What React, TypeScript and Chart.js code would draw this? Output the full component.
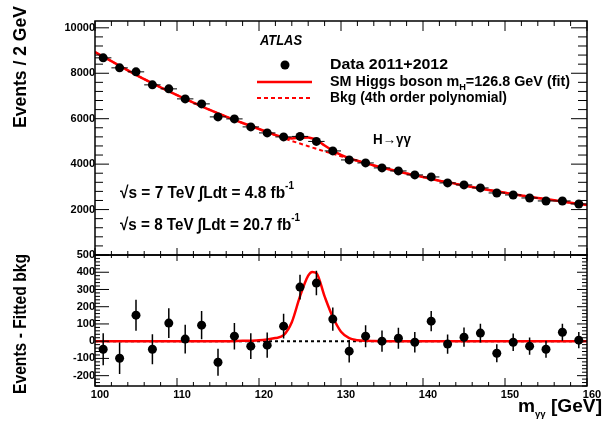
import React, { useEffect, useRef } from "react";
import { Chart, registerables } from "chart.js";
Chart.register(...registerables);

// ---- data ----
const massCenters = [101, 103, 105, 107, 109, 111, 113, 115, 117, 119, 121, 123, 125, 127, 129, 131, 133, 135, 137, 139, 141, 143, 145, 147, 149, 151, 153, 155, 157, 159];
const eventCounts = [8678, 8238, 8062, 7489, 7313, 6872, 6652, 6079, 5991, 5639, 5374, 5198, 5220, 5000, 4581, 4185, 4053, 3833, 3700, 3524, 3436, 3172, 3084, 2952, 2731, 2643, 2511, 2379, 2379, 2247];
const statErrors = [93, 91, 90, 87, 86, 83, 82, 78, 77, 75, 73, 72, 72, 71, 68, 65, 64, 62, 61, 59, 59, 56, 56, 54, 52, 51, 50, 49, 49, 47];
const residuals = [-47, -99, 151, -47, 105, 12, 93, -122, 29, -29, -23, 87, 314, 337, 128, -58, 29, 0, 17, -6, 116, -17, 23, 47, -70, -6, -29, -47, 52, 6];
const binHalfWidth = 1;

const fitMass = [100, 102, 104, 106, 108, 110, 112, 114, 116, 118, 119, 120, 121, 122, 123, 124, 125, 126, 126.5, 127, 128, 129, 130, 131, 132, 133, 134, 136, 138, 140, 142, 144, 146, 148, 150, 152, 154, 156, 158, 160];
const bkgFit = [8930, 8530, 8130, 7740, 7380, 7040, 6710, 6390, 6090, 5810, 5675, 5540, 5405, 5270, 5145, 5020, 4905, 4790, 4730, 4675, 4560, 4455, 4350, 4245, 4140, 4040, 3940, 3760, 3590, 3430, 3270, 3130, 2990, 2860, 2740, 2620, 2510, 2410, 2300, 2200];
const signalFit = [0, 0, 0, 0, 0, 0, 0, 0, 0, 2, 3, 5, 10, 18, 35, 110, 260, 380, 402, 395, 260, 140, 55, 18, 6, 2, 1, 0, 0, 0, 0, 0, 0, 0, 0, 0, 0, 0, 0, 0];

const xTickValues = [100, 110, 120, 130, 140, 150, 160];
const upperYTicks = [2000, 4000, 6000, 8000, 10000];
const lowerYTicks = [-200, -100, 0, 100, 200, 300, 400, 500];

const X_MIN = 100, X_MAX = 160;
const UP_MIN = 0, UP_MAX = 10300;
const LO_MIN = -260, LO_MAX = 500;

const FAM = '"Liberation Sans", Arial, sans-serif';

type Part = { t: string; f: string; dy?: number };

function drawRich(ctx: CanvasRenderingContext2D, parts: Part[], x: number, y: number, width: number, color = "#000") {
  ctx.save();
  ctx.textBaseline = "middle";
  ctx.textAlign = "left";
  let natural = 0;
  parts.forEach((p) => { ctx.font = p.f; natural += ctx.measureText(p.t).width; });
  const sx = width / natural;
  ctx.translate(x, y);
  ctx.scale(sx, 1);
  ctx.fillStyle = color;
  let cx = 0;
  parts.forEach((p) => {
    ctx.font = p.f;
    ctx.fillText(p.t, cx, p.dy || 0);
    cx += ctx.measureText(p.t).width;
  });
  ctx.restore();
}

function drawTicksAndFrame(chart: any, cfg: any) {
  const ctx: CanvasRenderingContext2D = chart.ctx;
  const a = chart.chartArea;
  const xs = chart.scales.x, ys = chart.scales.y;
  ctx.save();
  ctx.strokeStyle = "#000";
  ctx.lineWidth = 1.5;
  ctx.strokeRect(a.left, a.top, a.right - a.left, a.bottom - a.top);
  ctx.lineWidth = 1;
  ctx.beginPath();
  for (let v = X_MIN; v <= X_MAX; v += 2) {
    const px = xs.getPixelForValue(v);
    const major = v % 10 === 0;
    const lt = major ? cfg.topMaj : cfg.topMin;
    const lb = major ? cfg.botMaj : cfg.botMin;
    ctx.moveTo(px, a.top); ctx.lineTo(px, a.top + lt);
    ctx.moveTo(px, a.bottom); ctx.lineTo(px, a.bottom - lb);
  }
  for (let v = cfg.yStart; v <= cfg.yEnd; v += cfg.yMinor) {
    const py = ys.getPixelForValue(v);
    if (py < a.top - 0.5 || py > a.bottom + 0.5) continue;
    const major = v % cfg.yMajor === 0;
    const ll = major ? cfg.leftMaj : cfg.leftMin;
    const lr = major ? cfg.rightMaj : cfg.rightMin;
    ctx.moveTo(a.left, py); ctx.lineTo(a.left + ll, py);
    ctx.moveTo(a.right, py); ctx.lineTo(a.right - lr, py);
  }
  ctx.stroke();
  ctx.restore();
}

const upperDecor = {
  id: "upperDecor",
  afterDatasetsDraw(chart: any) {
    const ctx: CanvasRenderingContext2D = chart.ctx;
    const xs = chart.scales.x, ys = chart.scales.y;
    ctx.save();
    ctx.strokeStyle = "#000";
    ctx.lineWidth = 1;
    ctx.beginPath();
    massCenters.forEach((m, i) => {
      const px = xs.getPixelForValue(m);
      const py = ys.getPixelForValue(eventCounts[i]);
      ctx.moveTo(xs.getPixelForValue(m - binHalfWidth), py);
      ctx.lineTo(xs.getPixelForValue(m + binHalfWidth), py);
      ctx.moveTo(px, ys.getPixelForValue(eventCounts[i] - statErrors[i]));
      ctx.lineTo(px, ys.getPixelForValue(eventCounts[i] + statErrors[i]));
    });
    ctx.stroke();
    ctx.restore();
  },
  afterDraw(chart: any) {
    const ctx: CanvasRenderingContext2D = chart.ctx;
    drawTicksAndFrame(chart, {
      topMaj: 10, topMin: 5, botMaj: 7, botMin: 4,
      yStart: 0, yEnd: 10400, yMinor: 400, yMajor: 2000,
      leftMaj: 14, leftMin: 8, rightMaj: 16, rightMin: 9,
    });
    // ATLAS label
    drawRich(ctx, [{ t: "ATLAS", f: `italic bold 15px ${FAM}` }], 260, 41, 42);
    // legend
    ctx.save();
    ctx.fillStyle = "#000";
    ctx.beginPath();
    ctx.arc(285, 65, 4.5, 0, Math.PI * 2);
    ctx.fill();
    ctx.strokeStyle = "#ff0000";
    ctx.lineWidth = 2.5;
    ctx.beginPath();
    ctx.moveTo(257, 82); ctx.lineTo(312, 82);
    ctx.stroke();
    ctx.lineWidth = 2;
    ctx.setLineDash([4, 3]);
    ctx.beginPath();
    ctx.moveTo(257, 98); ctx.lineTo(312, 98);
    ctx.stroke();
    ctx.restore();
    drawRich(ctx, [{ t: "Data 2011+2012", f: `bold 14px ${FAM}` }], 330, 65, 118);
    drawRich(ctx, [
      { t: "SM Higgs boson m", f: `bold 14px ${FAM}` },
      { t: "H", f: `bold 9px ${FAM}` , dy: 6 },
      { t: "=126.8 GeV (fit)", f: `bold 14px ${FAM}` },
    ], 330, 82, 240);
    drawRich(ctx, [{ t: "Bkg (4th order polynomial)", f: `bold 14px ${FAM}` }], 330, 98, 177);
    drawRich(ctx, [{ t: "H→γγ", f: `bold 14px ${FAM}` }], 373, 140, 38);
    drawRich(ctx, [
      { t: "√s = 7 TeV ∫Ldt = 4.8 fb", f: `bold 17px ${FAM}` },
      { t: "-1", f: `bold 11px ${FAM}`, dy: -7 },
    ], 120, 193, 174);
    drawRich(ctx, [
      { t: "√s = 8 TeV ∫Ldt = 20.7 fb", f: `bold 17px ${FAM}` },
      { t: "-1", f: `bold 11px ${FAM}`, dy: -7 },
    ], 120, 225, 180);
    // y title
    ctx.save();
    ctx.translate(21, 128);
    ctx.rotate(-Math.PI / 2);
    drawRich(ctx, [{ t: "Events / 2 GeV", f: `bold 18px ${FAM}` }], 0, 0, 122);
    ctx.restore();
  },
};

const lowerDecor = {
  id: "lowerDecor",
  afterDatasetsDraw(chart: any) {
    const ctx: CanvasRenderingContext2D = chart.ctx;
    const xs = chart.scales.x, ys = chart.scales.y;
    ctx.save();
    ctx.strokeStyle = "#000";
    ctx.lineWidth = 1.5;
    ctx.beginPath();
    massCenters.forEach((m, i) => {
      const px = xs.getPixelForValue(m);
      ctx.moveTo(px, ys.getPixelForValue(residuals[i] - statErrors[i]));
      ctx.lineTo(px, ys.getPixelForValue(residuals[i] + statErrors[i]));
    });
    ctx.stroke();
    ctx.restore();
  },
  afterDraw(chart: any) {
    const ctx: CanvasRenderingContext2D = chart.ctx;
    drawTicksAndFrame(chart, {
      topMaj: 6, topMin: 3, botMaj: 8, botMin: 4,
      yStart: -260, yEnd: 500, yMinor: 20, yMajor: 100,
      leftMaj: 14, leftMin: 5, rightMaj: 10, rightMin: 5,
    });
    // y title
    ctx.save();
    ctx.translate(21, 394);
    ctx.rotate(-Math.PI / 2);
    drawRich(ctx, [{ t: "Events - Fitted bkg", f: `bold 18px ${FAM}` }], 0, 0, 140);
    ctx.restore();
    // x title
    drawRich(ctx, [
      { t: "m", f: `bold 18px ${FAM}` },
      { t: "γγ", f: `bold 9px ${FAM}`, dy: 8 },
      { t: " [GeV]", f: `bold 18px ${FAM}` },
    ], 518, 407, 84);
  },
};

const tickFont = { family: FAM, size: 11, weight: "bold" as const };
const plainLabel = (v: any) => String(v);

export default function App() {
  const upRef = useRef<HTMLCanvasElement>(null);
  const loRef = useRef<HTMLCanvasElement>(null);

  useEffect(() => {
    const up = new Chart(upRef.current as HTMLCanvasElement, {
      type: "scatter",
      data: {
        datasets: [
          {
            type: "scatter",
            data: massCenters.map((m, i) => ({ x: m, y: eventCounts[i] })),
            pointRadius: 4.5,
            pointBackgroundColor: "#000",
            pointBorderColor: "#000",
            pointBorderWidth: 0,
            order: 0,
          } as any,
          {
            type: "line",
            data: fitMass.map((m, i) => ({ x: m, y: bkgFit[i] + signalFit[i] })),
            borderColor: "#ff0000",
            borderWidth: 2.5,
            pointRadius: 0,
            fill: false,
            cubicInterpolationMode: "monotone",
            order: 1,
          } as any,
          {
            type: "line",
            data: fitMass.map((m, i) => ({ x: m, y: bkgFit[i] })),
            borderColor: "#ff0000",
            borderWidth: 2,
            borderDash: [4, 3],
            pointRadius: 0,
            fill: false,
            cubicInterpolationMode: "monotone",
            order: 2,
          } as any,
        ],
      },
      options: {
        responsive: false,
        animation: false,
        events: [],
        layout: { padding: { top: 21, right: 20, bottom: 166, left: 0 } },
        plugins: { legend: { display: false }, tooltip: { enabled: false } },
        scales: {
          x: { type: "linear", min: X_MIN, max: X_MAX, display: false },
          y: {
            type: "linear",
            min: UP_MIN,
            max: UP_MAX,
            afterFit: (s: any) => { s.width = 95; },
            afterBuildTicks: (s: any) => { s.ticks = upperYTicks.map((v) => ({ value: v })); },
            grid: { display: false, drawTicks: false },
            border: { display: false },
            ticks: { color: "#000", font: tickFont, padding: 0, callback: plainLabel },
          },
        },
      } as any,
      plugins: [upperDecor],
    });

    const lo = new Chart(loRef.current as HTMLCanvasElement, {
      type: "scatter",
      data: {
        datasets: [
          {
            type: "scatter",
            data: massCenters.map((m, i) => ({ x: m, y: residuals[i] })),
            pointRadius: 4.5,
            pointBackgroundColor: "#000",
            pointBorderColor: "#000",
            pointBorderWidth: 0,
            order: 0,
          } as any,
          {
            type: "line",
            data: fitMass.map((m, i) => ({ x: m, y: signalFit[i] })),
            borderColor: "#ff0000",
            borderWidth: 2.5,
            pointRadius: 0,
            fill: false,
            cubicInterpolationMode: "monotone",
            order: 1,
          } as any,
          {
            type: "line",
            data: fitMass.map((m, i) => ({ x: m, y: bkgFit[i] - bkgFit[i] })),
            borderColor: "#000",
            borderWidth: 2,
            borderDash: [3, 3],
            pointRadius: 0,
            fill: false,
            order: 2,
          } as any,
        ],
      },
      options: {
        responsive: false,
        animation: false,
        events: [],
        layout: { padding: { top: 255, right: 20, bottom: 0, left: 0 } },
        plugins: { legend: { display: false }, tooltip: { enabled: false } },
        scales: {
          x: {
            type: "linear",
            min: X_MIN,
            max: X_MAX,
            afterFit: (s: any) => { s.height = 35; },
            afterBuildTicks: (s: any) => { s.ticks = xTickValues.map((v) => ({ value: v })); },
            grid: { display: false, drawTicks: false },
            border: { display: false },
            ticks: { color: "#000", font: tickFont, padding: 2, labelOffset: 5, maxRotation: 0, autoSkip: false, callback: plainLabel },
          },
          y: {
            type: "linear",
            min: LO_MIN,
            max: LO_MAX,
            afterFit: (s: any) => { s.width = 95; },
            afterBuildTicks: (s: any) => { s.ticks = lowerYTicks.map((v) => ({ value: v })); },
            grid: { display: false, drawTicks: false },
            border: { display: false },
            ticks: { color: "#000", font: tickFont, padding: 0, callback: plainLabel },
          },
        },
      } as any,
      plugins: [lowerDecor],
    });

    return () => {
      up.destroy();
      lo.destroy();
    };
  }, []);

  return (
    <div style={{ position: "absolute", left: 0, top: 0, width: 607, height: 421, background: "#fff" }}>
      <canvas ref={upRef} width={607} height={421} style={{ position: "absolute", left: 0, top: 0 }} />
      <canvas ref={loRef} width={607} height={421} style={{ position: "absolute", left: 0, top: 0 }} />
    </div>
  );
}
